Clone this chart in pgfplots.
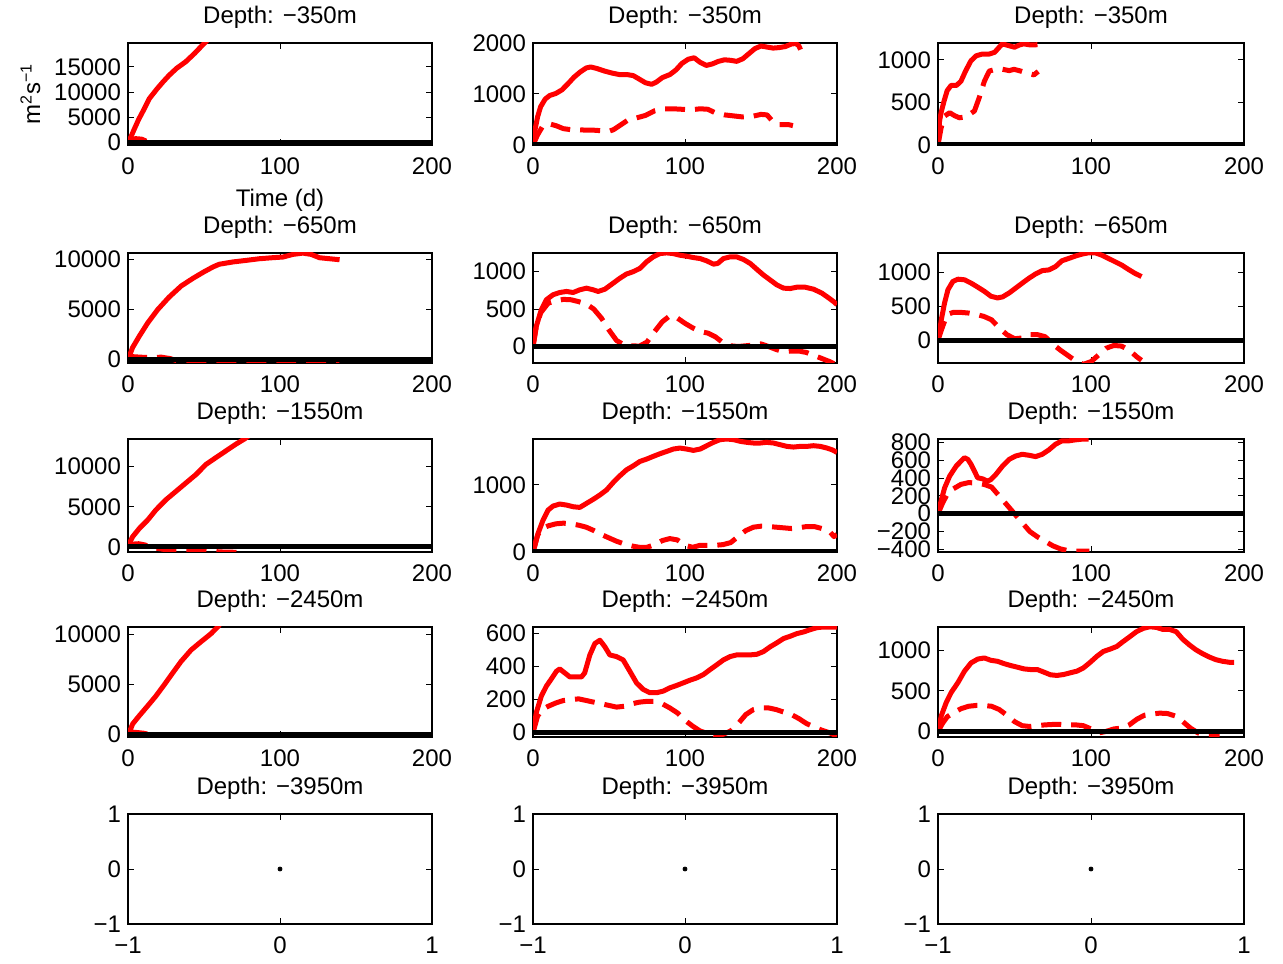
\documentclass[border=0pt]{standalone}
\usepackage{fontspec}
\setmainfont{Liberation Sans}
\usepackage{pgfplots}
\pgfplotsset{compat=1.18}
\definecolor{mred}{RGB}{255,0,0}
\newcommand\fsz{\fontsize{12}{14}\selectfont}
\pgfplotsset{
 panel/.style={scale only axis, anchor=south west, xmin=0, xmax=200, xtick={0,100,200},
   tick align=inside, major tick length=3pt, axis line style={line width=0.6pt},
   tick style={black,line width=0.5pt},
   /pgf/number format/assume math mode=true, /pgf/number format/1000 sep={},
   scaled ticks=false, tick label style={font=\fsz},
   xticklabel style={yshift=-3pt},
   title style={font=\fsz, at={(0.5,1)}, anchor=base, yshift=3.75pt},
   label style={font=\fsz}},
 c1/.style={panel, at={(64pt,#1)}, width=152pt},
 c2/.style={panel, at={(266.5pt,#1)}, width=152pt},
 c3/.style={panel, at={(469pt,#1)}, width=153pt},
 r1/.style={height=51pt, title={Depth: −350m}},
 r2/.style={height=55pt, title={Depth: −650m}},
 r3/.style={height=56.5pt, title={Depth: −1550m}},
 r4/.style={height=55pt, title={Depth: −2450m}},
 r5/.style={height=55pt, title={Depth: −3950m}, xmin=-1, xmax=1, ymin=-1, ymax=1,
   xtick={-1,0,1}, ytick={-1,0,1}, xticklabels={−1,0,1}, yticklabels={−1,0,1}},
 sol/.style={mred, line width=2.5pt, line join=round},
 das/.style={mred, line width=2.5pt, line join=round, dash pattern=on 10pt off 5pt},
 zer/.style={black, line width=2.5pt},
}
\begin{document}
\begin{tikzpicture}
\useasboundingbox (0pt,0pt) rectangle (641.5pt,481.5pt);
% ---------------- row 1
\begin{axis}[c1=409pt, r1, ymin=-450, ymax=19700, ytick={0,5000,10000,15000},
  xlabel={Time (d)}, ylabel={m\textsuperscript{2}s\textsuperscript{−1}}]
\addplot[sol] coordinates {(0,0)(1,600)(2,1200)(4,2600)(7,4600)(10,6300)(14,8700)(19,10600)(23,12000)(27,13300)(32,14700)(38,16000)(44,17700)(50,19600)(53,20500)(60,22000)};
\addplot[das] coordinates {(0,0)(2,600)(5,800)(9,700)(12,300)(16,-100)(20,-350)(25,-380)(30,-360)(35,-330)(40,-350)(45,-380)(50,-420)(55,-600)(60,-800)};
\addplot[zer] coordinates {(0,0)(200,0)};
\end{axis}
\begin{axis}[c2=409pt, r1, ymin=0, ymax=2000, ytick={0,1000,2000}]
\addplot[sol] coordinates {(0,0)(1,250)(3,550)(5,750)(8,900)(11,970)(15,1010)(19,1080)(23,1200)(27,1330)(31,1430)(35,1510)(38,1530)(42,1500)(47,1450)(52,1410)(57,1380)(62,1380)(66,1360)(70,1290)(74,1220)(78,1190)(81,1230)(85,1320)(90,1380)(94,1470)(98,1600)(102,1680)(106,1710)(110,1620)(114,1560)(118,1590)(122,1640)(126,1670)(130,1660)(134,1640)(138,1690)(142,1790)(146,1890)(150,1940)(154,1920)(158,1900)(162,1910)(166,1930)(170,1980)(173,1990)(175,1940)(176,1870)};
\addplot[das] coordinates {(0,0)(3,200)(6,350)(10,420)(15,380)(20,320)(25,300)(30,300)(35,290)(40,290)(45,280)(50,270)(53,300)(57,380)(62,480)(68,530)(74,580)(80,670)(86,710)(92,710)(98,700)(104,690)(110,710)(115,700)(120,630)(126,590)(132,570)(138,550)(144,560)(150,600)(154,590)(158,450)(162,400)(168,400)(171,380)};
\addplot[zer] coordinates {(0,0)(200,0)};
\end{axis}
\begin{axis}[c3=409pt, r1, ymin=0, ymax=1200, ytick={0,500,1000}]
\addplot[sol] coordinates {(0,0)(0.5,150)(1,280)(2,380)(4,520)(6,640)(8.5,700)(12,700)(15,750)(18,870)(21.5,990)(25,1050)(29,1070)(33.5,1070)(37,1090)(39,1130)(42,1190)(46,1170)(50,1150)(53,1175)(56,1190)(60,1178)(63,1178)(65,1180)};
\addplot[das] coordinates {(0,0)(2,200)(4.3,340)(7.6,380)(10.8,345)(14,320)(18,330)(20.5,360)(23.8,400)(27,560)(30.3,750)(33.5,870)(37.8,890)(41,895)(46.5,875)(49.7,890)(54,870)(59.5,840)(62.7,825)(65.5,865)};
\addplot[zer] coordinates {(0,0)(200,0)};
\end{axis}
% ---------------- row 2
\begin{axis}[c1=300pt, r2, ymin=-330, ymax=10600, ytick={0,5000,10000}]
\addplot[sol] coordinates {(0,0)(3,1200)(7.5,2350)(13,3660)(19.5,4970)(27,6210)(35,7320)(42.6,8070)(50,8730)(56,9220)(60,9480)(69,9710)(78,9870)(86.5,10030)(95,10130)(102,10200)(108.5,10460)(115,10590)(120.5,10460)(126,10130)(132.6,10030)(139.2,9930)};
\addplot[das] coordinates {(0,0)(3,300)(8,250)(15,200)(22,250)(28,100)(33,-150)(38,-300)(45,-320)(55,-320)(65,-320)(75,-320)(85,-320)(95,-250)(103,-120)(110,-200)(118,-300)(125,-320)(135,-320)(139,-300)};
\addplot[zer] coordinates {(0,0)(200,0)};
\end{axis}
\begin{axis}[c2=300pt, r2, ymin=-220, ymax=1250, ytick={0,500,1000}]
\addplot[sol] coordinates {(0,0)(2.2,273)(5.5,493)(8.8,625)(13.2,692)(17.6,722)(22,736)(26.4,722)(30.8,758)(35.2,780)(39.6,758)(42.9,736)(47.3,766)(52.7,846)(57.1,912)(61.5,969)(65.9,1000)(70.3,1044)(74.7,1132)(79.1,1198)(83.5,1242)(87.9,1251)(92.3,1242)(96.7,1220)(101,1207)(105.5,1189)(109.9,1176)(114.3,1145)(118.7,1101)(121.5,1110)(125.3,1176)(129.7,1198)(134,1198)(138.5,1163)(142.9,1110)(147.3,1031)(151.6,956)(156,890)(160.4,824)(164.8,780)(169.2,775)(173.6,793)(179,793)(184.6,766)(190,714)(194.5,650)(197.8,600)(200,560)};
\addplot[das] coordinates {(0,0)(2,250)(5,450)(10,580)(15,610)(20,630)(25,625)(30,600)(35,570)(40,500)(45,380)(50,220)(55,80)(60,20)(65,10)(70,5)(75,60)(80,200)(85,330)(90,410)(95,380)(100,310)(105,250)(110,200)(115,180)(120,130)(125,50)(130,10)(135,0)(140,10)(145,20)(150,35)(155,0)(160,-40)(165,-70)(170,-60)(175,-60)(180,-80)(185,-120)(190,-160)(195,-200)(198,-230)};
\addplot[zer] coordinates {(0,0)(200,0)};
\end{axis}
\begin{axis}[c3=300pt, r2, ymin=-340, ymax=1290, ytick={0,500,1000}]
\addplot[sol] coordinates {(0,0)(0.4,39)(2.2,307)(4.3,551)(6.5,746)(9.7,868)(13,902)(17.3,893)(21.6,844)(25.9,785)(30.3,722)(34.6,649)(38.9,624)(42.2,639)(46.5,698)(50.8,771)(55.1,844)(59.5,917)(63.8,980)(68.1,1029)(72.4,1039)(76.8,1088)(81,1175)(85.4,1209)(89.7,1244)(94,1273)(98.4,1293)(102.7,1293)(107,1258)(111.4,1209)(115.7,1161)(120,1112)(124.3,1049)(128.6,990)(133,941)};
\addplot[das] coordinates {(0,0)(3,200)(6,380)(10,410)(15,410)(20,400)(25,380)(30,350)(35,300)(40,180)(45,80)(50,20)(55,30)(60,80)(65,80)(70,50)(75,-60)(80,-150)(85,-230)(90,-310)(95,-360)(100,-320)(105,-220)(110,-120)(115,-80)(120,-90)(125,-150)(130,-250)(133,-300)};
\addplot[zer] coordinates {(0,0)(200,0)};
\end{axis}
% ---------------- row 3
\begin{axis}[c1=205.5pt, r3, ymin=-630, ymax=13440, ytick={0,5000,10000}]
\addplot[sol] coordinates {(0,0)(1,500)(3,1260)(7.5,2310)(13,3360)(18.4,4620)(25,5880)(31.6,6930)(38.2,7980)(44.8,9030)(51.4,10290)(57.9,11130)(64.5,11970)(71.1,12810)(76.6,13440)(80,13900)};
\addplot[das] coordinates {(0,0)(3,350)(7,400)(11,250)(15,0)(20,-200)(25,-350)(30,-430)(40,-430)(48,-450)(55,-550)(62,-630)(68,-650)(75,-720)};
\addplot[zer] coordinates {(0,0)(200,0)};
\end{axis}
\begin{axis}[c2=205.5pt, r3, ymin=0, ymax=1685, ytick={0,1000}]
\addplot[sol] coordinates {(0,0)(0.4,25)(3.3,275)(6.6,475)(9.9,625)(13.2,685)(17.6,715)(22,700)(26.4,675)(30.8,665)(35.2,725)(39.6,785)(44,850)(48.4,925)(52.7,1035)(57.1,1135)(61.5,1225)(66,1285)(70.3,1350)(74.7,1385)(79,1425)(83.5,1465)(88,1500)(92.3,1535)(96.7,1550)(101,1535)(105.5,1515)(110,1535)(114.3,1585)(118.7,1635)(123,1675)(127.5,1685)(131.9,1675)(136.3,1650)(140.7,1635)(145,1625)(149.5,1625)(153.8,1635)(158.2,1625)(162.6,1600)(167,1575)(171.4,1565)(175.8,1575)(180.2,1575)(184.6,1585)(189,1575)(193.4,1550)(196.7,1525)(200,1485)};
\addplot[das] coordinates {(0,0)(3,250)(6,350)(10,390)(15,420)(20,430)(25,420)(30,400)(35,370)(40,320)(45,260)(50,210)(55,160)(60,120)(65,90)(70,70)(75,70)(80,110)(85,170)(90,200)(95,180)(100,100)(105,70)(110,100)(115,100)(120,100)(125,110)(130,140)(135,230)(140,320)(145,370)(150,385)(155,380)(160,370)(165,360)(170,350)(175,360)(180,380)(185,380)(190,350)(195,310)(198,230)(200,260)};
\addplot[zer] coordinates {(0,0)(200,0)};
\end{axis}
\begin{axis}[c3=205.5pt, r3, ymin=-430, ymax=840, ytick={-400,-200,0,200,400,600,800},
  yticklabels={−400,−200,0,200,400,600,800}]
\addplot[sol] coordinates {(0,0)(0.4,26)(2.2,158)(4.3,290)(7.6,423)(11.9,536)(15.1,592)(17.3,630)(19.5,611)(21.6,555)(23.8,479)(25.9,404)(29.2,392)(32.4,366)(34.6,385)(37.8,441)(42.2,536)(46.5,611)(50.8,649)(55.1,668)(59.5,657)(63.8,642)(68.1,668)(72.4,717)(76.8,781)(81,819)(85.4,819)(89.7,830)(94,838)(98.4,838)};
\addplot[das] coordinates {(0,0)(3,120)(6,220)(10,280)(15,330)(20,350)(25,345)(30,330)(35,300)(40,200)(45,100)(50,0)(55,-100)(60,-200)(65,-260)(70,-310)(75,-360)(80,-395)(85,-415)(90,-420)(95,-420)(99,-420)};
\addplot[zer] coordinates {(0,0)(200,0)};
\end{axis}
% ---------------- row 4
\begin{axis}[c1=113pt, r4, ymin=-230, ymax=10720, ytick={0,5000,10000}]
\addplot[sol] coordinates {(0,0)(1,300)(3.1,1080)(7.5,1900)(13,2876)(18.4,3856)(24,5000)(29.4,6144)(34.9,7288)(41.5,8430)(48,9250)(54.7,10065)(59,10720)(62,11300)};
\addplot[das] coordinates {(0,0)(3,250)(7,200)(10,150)(15,0)(20,-100)(28,-180)(35,-200)(42,-220)(48,-220)(55,-250)(60,-300)};
\addplot[zer] coordinates {(0,0)(200,0)};
\end{axis}
\begin{axis}[c2=113pt, r4, ymin=-26, ymax=640, ytick={0,200,400,600}]
\addplot[sol] coordinates {(0,0)(0.4,24)(2.2,123)(5.5,222)(8.8,282)(12.1,326)(15.4,372)(17.6,386)(20.9,362)(24.2,338)(28.6,338)(31.9,338)(34,362)(37.4,471)(40.7,540)(44,560)(47.3,520)(50.5,471)(54.9,461)(59.3,441)(63.7,372)(68.1,302)(72.5,262)(76.9,242)(81.3,242)(85.7,252)(90.1,272)(94.5,286)(98.9,302)(103.3,318)(107.7,332)(112.1,352)(116.5,382)(120.9,411)(125.3,441)(129.7,461)(134,471)(138.5,471)(142.9,471)(147.3,475)(151.6,491)(156,520)(160.4,544)(164.8,570)(169.2,584)(173.6,600)(178,610)(182.4,624)(186.8,636)(191.2,640)(195.6,640)(200,640)};
\addplot[das] coordinates {(0,0)(3,100)(6,140)(10,160)(15,180)(20,195)(25,200)(30,205)(35,195)(40,185)(45,175)(50,165)(55,155)(60,160)(65,175)(70,185)(75,190)(80,190)(85,175)(90,150)(95,120)(100,75)(105,40)(110,10)(115,-5)(120,-15)(125,-10)(130,10)(135,55)(140,110)(145,140)(150,150)(155,150)(160,140)(165,125)(170,110)(175,85)(180,55)(185,35)(190,15)(195,0)(200,-20)};
\addplot[zer] coordinates {(0,0)(200,0)};
\end{axis}
\begin{axis}[c3=113pt, r4, ymin=-70, ymax=1290, ytick={0,500,1000}]
\addplot[sol] coordinates {(0,0)(0.4,32)(2.2,195)(5.4,358)(8.6,480)(13,602)(17.3,744)(21.6,846)(26,894)(30.3,907)(34.6,878)(38.9,866)(43.2,837)(47.6,813)(51.9,793)(56.2,772)(60.5,764)(64.9,764)(69.2,732)(73.5,699)(77.8,691)(82.2,703)(86.5,724)(90.8,744)(95.1,785)(99.5,854)(103.8,927)(108.1,988)(112.4,1016)(116.8,1049)(121,1110)(125.4,1171)(129.7,1232)(134,1272)(138.4,1293)(142.7,1285)(147,1260)(151.4,1260)(155.7,1232)(160,1138)(164.3,1069)(168.6,1008)(173,959)(177.3,919)(181.6,886)(186,866)(190.3,854)(193.5,854)};
\addplot[das] coordinates {(0,0)(3,100)(6,180)(10,230)(15,280)(20,310)(25,320)(30,320)(35,310)(40,270)(45,200)(50,120)(55,70)(60,60)(65,70)(70,80)(75,85)(80,85)(85,80)(90,80)(95,70)(100,30)(105,-20)(110,0)(115,30)(120,40)(125,80)(130,150)(135,200)(140,215)(145,225)(150,220)(155,190)(160,120)(165,40)(170,-20)(175,-50)(180,-50)(184,-50)};
\addplot[zer] coordinates {(0,0)(200,0)};
\end{axis}
% ---------------- row 5
\begin{axis}[c1=19.5pt, r5]
\addplot[black, only marks, mark=*, mark size=1pt] coordinates {(0,0)};
\end{axis}
\begin{axis}[c2=19.5pt, r5]
\addplot[black, only marks, mark=*, mark size=1pt] coordinates {(0,0)};
\end{axis}
\begin{axis}[c3=19.5pt, r5]
\addplot[black, only marks, mark=*, mark size=1pt] coordinates {(0,0)};
\end{axis}
\end{tikzpicture}
\end{document}
